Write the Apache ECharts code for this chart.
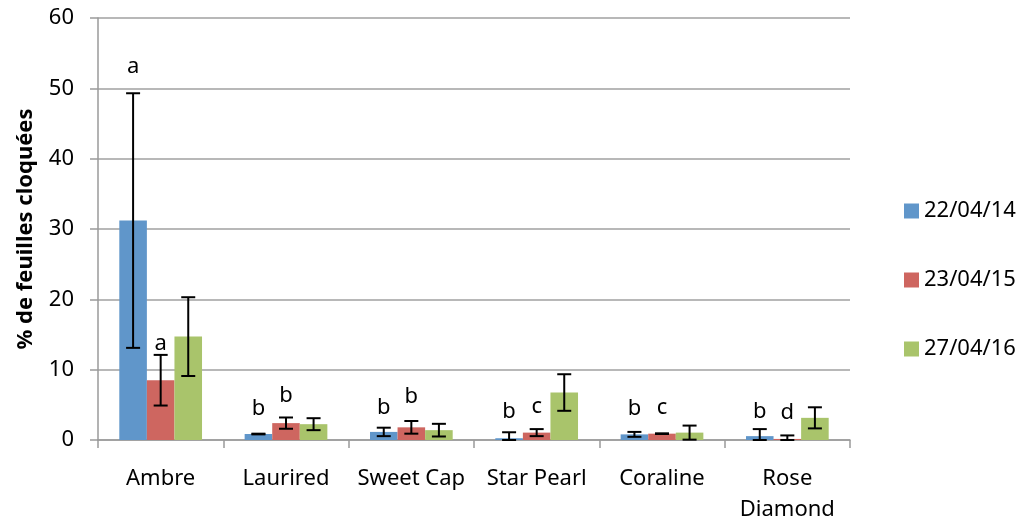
<!DOCTYPE html>
<html>
<head>
<meta charset="utf-8">
<script src="https://cdn.jsdelivr.net/npm/echarts@6/dist/echarts.min.js"></script>
<style>html,body{margin:0;padding:0;background:#fff}#c{width:1025px;height:519px}</style>
</head>
<body>
<div id="c"></div>
<script>
const categories = ['Ambre', 'Laurired', 'Sweet Cap', 'Star Pearl', 'Coraline', 'Rose\nDiamond'];
const seriesNames = ['22/04/14', '23/04/15', '27/04/16'];
const values1 = [31.2, 0.85, 1.15, 0.25, 0.8, 0.55];
const errors1 = [18.1, 0.05, 0.6, 0.85, 0.35, 1.0];
const values2 = [8.5, 2.4, 1.8, 1.05, 0.9, 0.15];
const errors2 = [3.6, 0.8, 0.9, 0.5, 0.05, 0.5];
const values3 = [14.7, 2.25, 1.4, 6.75, 1.05, 3.15];
const errors3 = [5.6, 0.85, 0.9, 2.6, 1.0, 1.5];
const letters1 = ['a', 'b', 'b', 'b', 'b', 'b'];
const letters1Y = [53.0, 4.5, 4.6, 4.0, 4.5, 4.0];
const letters2 = ['a', 'b', 'b', 'c', 'c', 'd'];
const letters2Y = [13.7, 6.25, 6.1, 4.7, 4.6, 3.9];
const yTicks = [0, 10, 20, 30, 40, 50, 60];

const colors = ['#6096CA', '#CE6660', '#A9C46B'];
const allValues = [values1, values2, values3];
const allErrors = [errors1, errors2, errors3];
const allLetters = [[letters1, letters1Y], [letters2, letters2Y]];
const CAT_GAP = 0.34;
const FONT = 'Noto Sans';

function barOffset(api, idx) {
  const band = api.size([1, 0])[0];
  const bw = band * (1 - CAT_GAP) / 3;
  return (idx - 1) * bw;
}

const series = [];
seriesNames.forEach((name, i) => {
  series.push({
    name: name,
    type: 'bar',
    data: allValues[i],
    itemStyle: { color: colors[i] },
    barGap: '0%',
    barCategoryGap: (CAT_GAP * 100) + '%',
    emphasis: { disabled: true }
  });
});
seriesNames.forEach((name, i) => {
  series.push({
    type: 'custom',
    silent: true,
    z: 10,
    data: allValues[i].map((v, k) => [k, v, Math.max(0, v - allErrors[i][k]), v + allErrors[i][k]]),
    renderItem: function (params, api) {
      const off = barOffset(api, i);
      const lo = api.coord([api.value(0), api.value(2)]);
      const hi = api.coord([api.value(0), api.value(3)]);
      const x = lo[0] + off;
      const cap = 7;
      const st = { stroke: '#000', lineWidth: 2 };
      return {
        type: 'group',
        children: [
          { type: 'line', shape: { x1: x, y1: lo[1], x2: x, y2: hi[1] }, style: st },
          { type: 'line', shape: { x1: x - cap, y1: hi[1], x2: x + cap, y2: hi[1] }, style: st },
          { type: 'line', shape: { x1: x - cap, y1: lo[1], x2: x + cap, y2: lo[1] }, style: st }
        ]
      };
    }
  });
});
allLetters.forEach((pair, i) => {
  series.push({
    type: 'custom',
    silent: true,
    z: 11,
    data: pair[0].map((t, k) => [k, pair[1][k], t]),
    renderItem: function (params, api) {
      const off = barOffset(api, i);
      const p = api.coord([api.value(0), api.value(1)]);
      return {
        type: 'text',
        style: {
          x: p[0] + off, y: p[1],
          text: pair[0][params.dataIndex],
          align: 'center', verticalAlign: 'middle',
          fontSize: 22, fontFamily: FONT, fill: '#000'
        }
      };
    }
  });
});

const chart = echarts.init(document.getElementById('c'), null, { renderer: 'canvas' });
chart.setOption({
  animation: false,
  color: colors,
  grid: { left: 98, right: 175, top: 18, bottom: 79, containLabel: false, outerBoundsMode: 'none' },
  legend: {
    data: seriesNames,
    orient: 'vertical',
    left: 899,
    top: 195,
    itemWidth: 15,
    itemHeight: 15,
    itemGap: 47,
    icon: 'rect',
    textStyle: { fontSize: 22, fontFamily: FONT, color: '#000', padding: [0, 0, 0, 0] }
  },
  xAxis: {
    type: 'category',
    data: categories,
    axisLine: { lineStyle: { color: '#9a9a9a', width: 1.5 } },
    axisTick: { show: true, length: 8, alignWithLabel: false, lineStyle: { color: '#9a9a9a', width: 1.5 } },
    axisLabel: { fontSize: 22, fontFamily: FONT, color: '#000', margin: 23, lineHeight: 31, interval: 0 }
  },
  yAxis: {
    type: 'value',
    min: yTicks[0],
    max: yTicks[yTicks.length - 1],
    interval: yTicks[1] - yTicks[0],
    name: '% de feuilles cloquées',
    nameLocation: 'middle',
    nameGap: 61,
    nameTextStyle: { fontSize: 22, fontWeight: 'bold', fontFamily: FONT, color: '#000' },
    axisLine: { show: true, lineStyle: { color: '#9a9a9a', width: 1.5 } },
    axisTick: { show: true, length: 8, lineStyle: { color: '#9a9a9a', width: 1.5 } },
    splitLine: { lineStyle: { color: '#a0a0a0', width: 1.5 } },
    axisLabel: { fontSize: 22, fontFamily: FONT, color: '#000', margin: 24 }
  },
  series: series
});
</script>
</body>
</html>
